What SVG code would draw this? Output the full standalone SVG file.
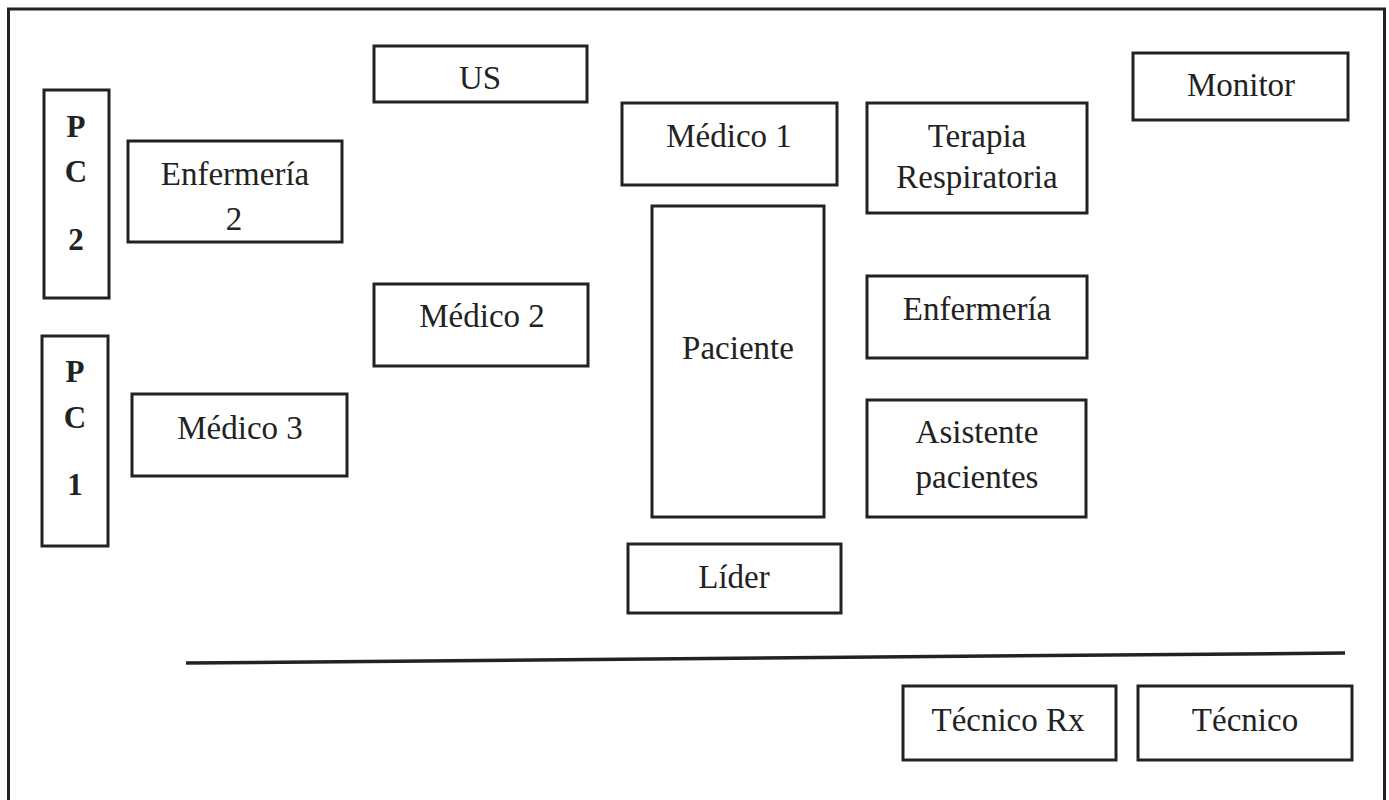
<svg xmlns="http://www.w3.org/2000/svg" width="1389" height="800" viewBox="0 0 1389 800">
<style>
.box{fill:#fff;stroke:#222;stroke-width:3}
.t{font-family:"Liberation Serif","DejaVu Serif",serif;font-size:33px;fill:#222;text-anchor:middle}
.b{font-weight:bold;font-size:31px}
</style>
<rect x="0" y="0" width="1389" height="800" fill="#fff"/>
<rect id="frame" x="8.5" y="9" width="1376" height="820" fill="none" stroke="#222" stroke-width="3"/>
<g id="connectors">
<line x1="186" y1="663" x2="1345" y2="653" stroke="#222" stroke-width="3.5"/>
</g>
<g id="pc2"><rect class="box" x="44" y="90" width="65" height="208"/>
<text class="t b" x="76" y="137">P</text><text class="t b" x="76" y="182">C</text><text class="t b" x="76" y="250">2</text></g>
<g id="pc1"><rect class="box" x="42" y="336" width="66" height="210"/>
<text class="t b" x="75" y="382">P</text><text class="t b" x="75" y="428">C</text><text class="t b" x="75" y="495">1</text></g>
<g id="enfermeria2"><rect class="box" x="128" y="141" width="214" height="101"/>
<text class="t" x="235" y="185">Enfermería</text><text class="t" x="234" y="230">2</text></g>
<g id="medico3"><rect class="box" x="132" y="394" width="215" height="82"/>
<text class="t" x="240" y="439">Médico 3</text></g>
<g id="us"><rect class="box" x="374" y="46" width="213" height="56"/>
<text class="t" x="480" y="89">US</text></g>
<g id="medico2"><rect class="box" x="374" y="284" width="214" height="82"/>
<text class="t" x="482" y="327">Médico 2</text></g>
<g id="medico1"><rect class="box" x="622" y="103" width="215" height="82"/>
<text class="t" x="729" y="147">Médico 1</text></g>
<g id="paciente"><rect class="box" x="652" y="206" width="172" height="311"/>
<text class="t" x="738" y="359">Paciente</text></g>
<g id="terapia"><rect class="box" x="867" y="103" width="220" height="110"/>
<text class="t" x="977" y="147">Terapia</text><text class="t" x="977" y="188">Respiratoria</text></g>
<g id="enfermeria"><rect class="box" x="867" y="276" width="220" height="82"/>
<text class="t" x="977" y="320">Enfermería</text></g>
<g id="asistente"><rect class="box" x="867" y="400" width="219" height="117"/>
<text class="t" x="977" y="443">Asistente</text><text class="t" x="977" y="488">pacientes</text></g>
<g id="monitor"><rect class="box" x="1133" y="53" width="215" height="67"/>
<text class="t" x="1241" y="96">Monitor</text></g>
<g id="lider"><rect class="box" x="628" y="544" width="213" height="69"/>
<text class="t" x="734" y="588">Líder</text></g>
<g id="tecnicorx"><rect class="box" x="903" y="686" width="213" height="74"/>
<text class="t" x="1008" y="731">Técnico Rx</text></g>
<g id="tecnico"><rect class="box" x="1138" y="686" width="214" height="74"/>
<text class="t" x="1245" y="731">Técnico</text></g>
</svg>
